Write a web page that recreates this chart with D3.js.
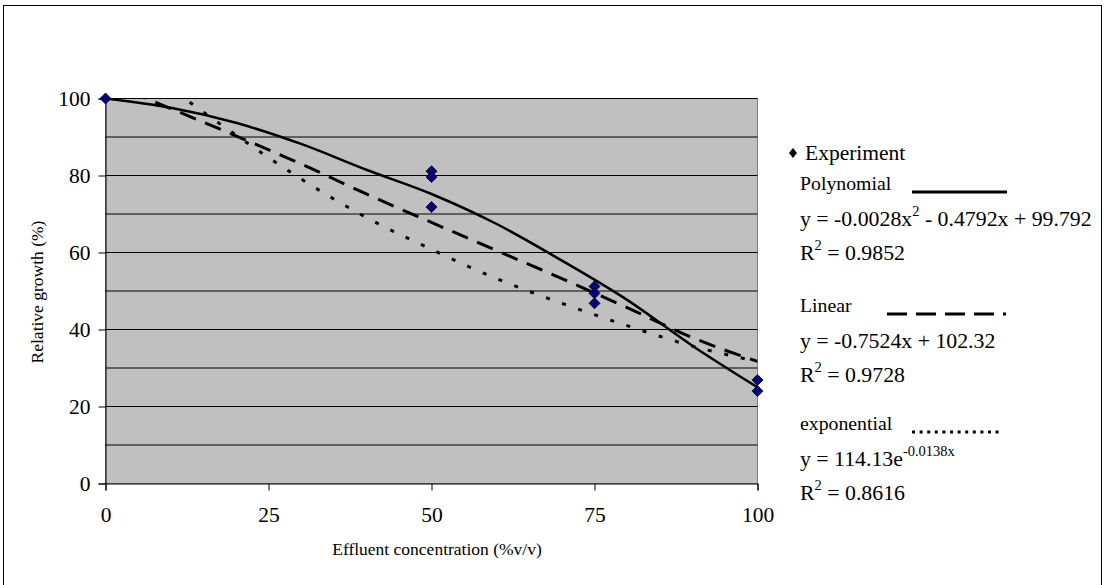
<!DOCTYPE html>
<html>
<head>
<meta charset="utf-8">
<script src="https://cdn.jsdelivr.net/npm/d3@7"></script>
<style>
  body { margin: 0; background: #fff; }
  text { font-family: "Liberation Serif", "Times New Roman", serif; fill: #000; }
</style>
</head>
<body>
<div id="chart"></div>
<script>
// measured data
var expX = [0, 50, 50, 50, 75, 75, 75, 100, 100]
var expY = [100, 81.1, 79.6, 71.8, 51.2, 49.4, 46.8, 26.9, 24.0]

// trend curves as drawn in the picture, sampled every 10 units
var fitX = [0, 10, 20, 30, 40, 50, 60, 70, 80, 90, 100]
var polyY = [100, 97.6, 93.7, 88.2, 81.5, 75.2, 67.4, 57.9, 47.7, 35.8, 25.0]
var linY = [104.5, 97.4, 90.3, 83.0, 75.2, 67.8, 60.5, 53.2, 45.7, 37.9, 31.7]
var expoY = [114, 102.5, 90.5, 79.1, 69.1, 60.8, 53.2, 46.8, 41.0, 35.7, 31.7]

var xTicks = [0, 25, 50, 75, 100]
var yTicks = [0, 20, 40, 60, 80, 100]
var gridVals = [10, 20, 30, 40, 50, 60, 70, 80, 90, 100]

var legendEq = [
  {name: "Polynomial", eq: ["y = -0.0028x", "2", " - 0.4792x + 99.792"], r2: "0.9852"},
  {name: "Linear", eq: ["y = -0.7524x + 102.32"], r2: "0.9728"},
  {name: "exponential", eq: ["y = 114.13e", "-0.0138x"], r2: "0.8616"}
]

var width = 1105, height = 585

var svg = d3.select("#chart").append("svg")
  .attr("width", width)
  .attr("height", height)

// outer frame
svg.append("rect")
  .attr("x", 3.5).attr("y", 5.5)
  .attr("width", 1098).attr("height", 600)
  .attr("fill", "none").attr("stroke", "#000")

var x = d3.scaleLinear().domain([0, 100]).range([105.5, 757.5])
var y = d3.scaleLinear().domain([0, 100]).range([483.5, 98.5])

// plot area
svg.append("rect")
  .attr("x", x(0)).attr("y", y(100))
  .attr("width", x(100) - x(0)).attr("height", y(0) - y(100))
  .attr("fill", "#c0c0c0")
  .attr("stroke", "#808080")

svg.append("g").selectAll("line")
  .data(gridVals)
  .join("line")
  .attr("x1", x(0)).attr("x2", x(100))
  .attr("y1", d => y(d)).attr("y2", d => y(d))
  .attr("stroke", "#000")

svg.append("clipPath").attr("id", "clip")
  .append("rect")
  .attr("x", x(0)).attr("y", y(100))
  .attr("width", x(100) - x(0)).attr("height", y(0) - y(100))

// axes
var yAxis = svg.append("g")
  .attr("transform", "translate(" + x(0) + ",0)")
  .call(d3.axisLeft(y).tickValues(yTicks).tickSize(7).tickPadding(8).tickFormat(d3.format("d")))
var xAxis = svg.append("g")
  .attr("transform", "translate(0," + y(0) + ")")
  .call(d3.axisBottom(x).tickValues(xTicks).tickSize(7).tickPadding(16).tickFormat(d3.format("d")))

svg.selectAll(".domain").attr("stroke", "#000")
svg.selectAll(".tick line").attr("stroke", "#000")
svg.selectAll(".tick text")
  .style("font-family", '"Liberation Serif", serif')
  .style("font-size", "21.5px")
  .attr("fill", "#000")

svg.append("text")
  .attr("transform", "translate(43,292) rotate(-90)")
  .attr("text-anchor", "middle")
  .style("font-size", "17.5px")
  .text("Relative growth (%)")

svg.append("text")
  .attr("x", 437).attr("y", 555)
  .attr("text-anchor", "middle")
  .style("font-size", "17.5px")
  .text("Effluent concentration (%v/v)")

// trend curves
var curves = [
  {vals: polyY, dash: null, w: 2.5},
  {vals: linY, dash: "17,10", w: 3},
  {vals: expoY, dash: "4,13", w: 3}
]

var line = d3.line()
  .x(d => x(d[0]))
  .y(d => y(d[1]))
  .curve(d3.curveMonotoneX)

var curveG = svg.append("g").attr("clip-path", "url(#clip)")
curves.forEach(function(c) {
  curveG.append("path")
    .datum(fitX.map((v, i) => [v, c.vals[i]]))
    .attr("d", line)
    .attr("fill", "none")
    .attr("stroke", "#000")
    .attr("stroke-width", c.w)
    .attr("stroke-dasharray", c.dash)
})

// experiment points
var diamond = "M0,-5.5L5.5,0L0,5.5L-5.5,0Z"
svg.append("g").selectAll("path")
  .data(expX.map((v, i) => [v, expY[i]]))
  .join("path")
  .attr("d", diamond)
  .attr("transform", d => "translate(" + x(d[0]) + "," + y(d[1]) + ")")
  .attr("fill", "#000080")
  .attr("stroke", "#000")
  .attr("stroke-width", 0.8)

// legend
var lg = svg.append("g")
lg.append("path")
  .attr("d", "M0,-5L4,0L0,5L-4,0Z")
  .attr("transform", "translate(793,153)")
  .attr("fill", "#000")
lg.append("text")
  .attr("x", 805).attr("y", 160)
  .style("font-size", "21.5px")
  .text("Experiment")

var blockY = [190, 312, 430]
var samples = [
  {x1: 912, x2: 1007, dash: null},
  {x1: 887, x2: 1006, dash: "20,9"},
  {x1: 912, x2: 1003, dash: "3,4.6"}
]

legendEq.forEach(function(d, i) {
  var by = blockY[i]
  lg.append("text")
    .attr("x", 800).attr("y", by)
    .style("font-size", "19.8px")
    .text(d.name)
  lg.append("line")
    .attr("x1", samples[i].x1).attr("x2", samples[i].x2)
    .attr("y1", by + 2).attr("y2", by + 2)
    .attr("stroke", "#000").attr("stroke-width", 3)
    .attr("stroke-dasharray", samples[i].dash)

  var eq = lg.append("text")
    .attr("x", 800).attr("y", by + 36)
    .style("font-size", "21.8px")
  d.eq.forEach(function(part, j) {
    var sp = eq.append("tspan").text(part)
    if (j % 2 === 1) {
      sp.style("font-size", "14.5px").attr("dy", -10)
    } else if (j > 0) {
      sp.attr("dy", 10)
    }
  })

  var r = lg.append("text")
    .attr("x", 800).attr("y", by + 70)
    .style("font-size", "21.8px")
  r.append("tspan").text("R")
  r.append("tspan").text("2").style("font-size", "14.5px").attr("dy", -10)
  r.append("tspan").text(" = " + d.r2).attr("dy", 10)
})
</script>
</body>
</html>
